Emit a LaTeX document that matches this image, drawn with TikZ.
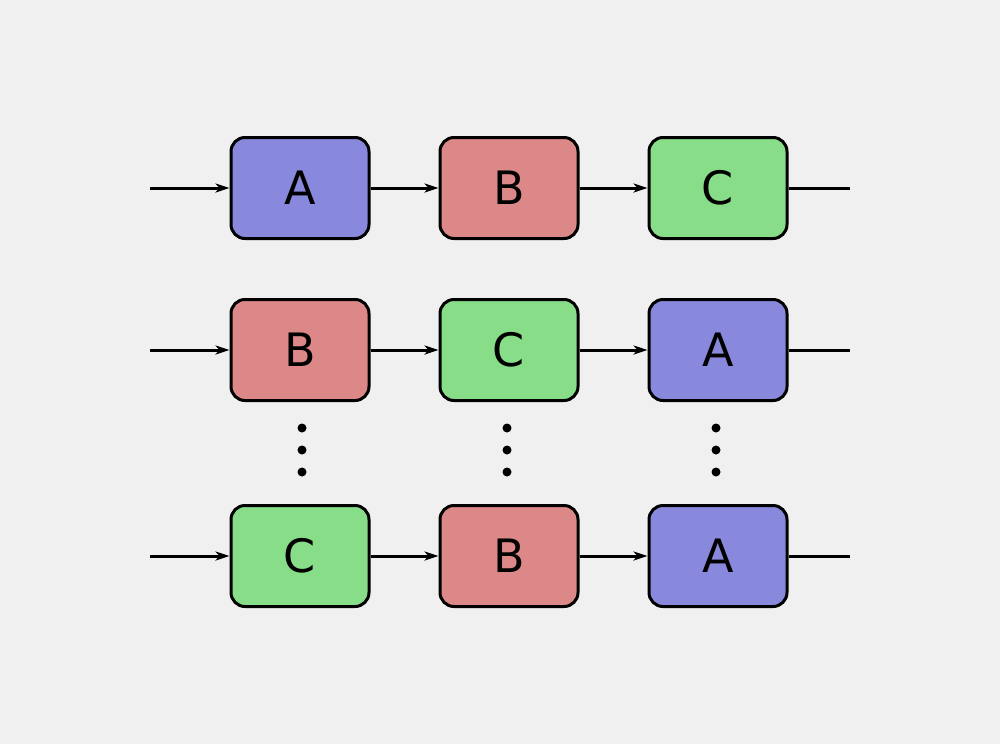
\documentclass[tikz,border=0pt]{standalone}
\usepackage{fontspec}
\setmainfont{DejaVu Sans}
\usetikzlibrary{arrows.meta}
\definecolor{bg}{HTML}{F0F0F0}
\definecolor{cA}{HTML}{8888DD}
\definecolor{cB}{HTML}{DD8888}
\definecolor{cC}{HTML}{88DD88}
\begin{document}
\begin{tikzpicture}[x=1pt,y=-1pt,
  box/.style={draw=black,line width=3pt,rounded corners=14pt,minimum width=138pt,minimum height=101pt,inner sep=0pt,font=\fontsize{46}{46}\selectfont},
  A/.style={box,fill=cA},B/.style={box,fill=cB},C/.style={box,fill=cC},
  con/.style={line width=3pt},
  arr/.style={con,-{Stealth[length=14pt,width=9pt,inset=4pt]}},
  dot/.style={circle,fill=black,inner sep=0pt,minimum size=9pt}]
\fill[bg] (0,0) rectangle (1000,744);
\useasboundingbox (0,0) rectangle (1000,744);
\foreach \r/\y/\a/\b/\c in {1/188/A/B/C,2/350/B/C/A,3/556/C/B/A}{
  \coordinate (s\r) at (150,\y);
  \coordinate (e\r) at (850,\y);
  \node[\a] (n\r1) at (300,\y) {\a};
  \node[\b] (n\r2) at (509,\y) {\b};
  \node[\c] (n\r3) at (718,\y) {\c};
  \draw[arr] (s\r) -- (n\r1);
  \draw[arr] (n\r1) -- (n\r2);
  \draw[arr] (n\r2) -- (n\r3);
  \draw[con] (n\r3) -- (e\r);
}
\foreach \x [count=\i] in {302,507,716}{
  \node[dot] (d\i a) at (\x,428) {};
  \node[dot] (d\i b) at (\x,450) {};
  \node[dot] (d\i c) at (\x,472) {};
}
\end{tikzpicture}
\end{document}
